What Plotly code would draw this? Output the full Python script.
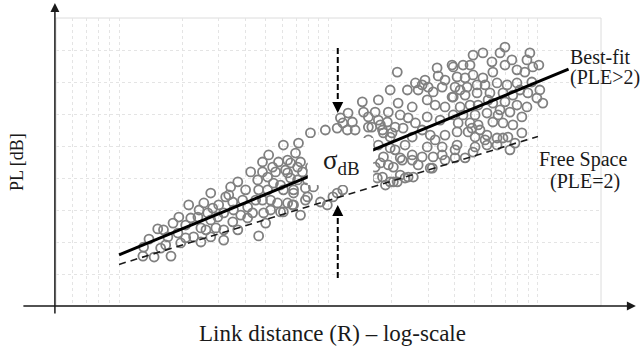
import math
import plotly.graph_objects as go

# ---- data ----
link_distance_R = [
    13.0, 14.7, 17.7, 13.9, 15.3, 15.8, 18.1, 19.3, 17.1, 19.7, 21.5, 22.0, 23.8, 24.6, 25.4, 27.4,
    28.0, 27.4, 29.9, 31.6, 32.3, 34.1, 34.9, 36.9, 36.9, 22.7, 24.6, 27.4, 20.8, 31.6, 13.1, 16.3,
    19.1, 26.5, 29.6, 31.6, 34.9, 35.2, 46.4, 59.0, 73.5, 50.1, 57.1, 68.1, 40.2, 42.5, 45.9, 48.4,
    51.8, 54.1, 60.9, 69.6, 71.9, 82.0, 73.5, 63.8, 59.0, 51.2, 44.9, 49.0, 67.3, 91.5, 105, 117,
    96.6, 110, 117, 124, 79.4, 84.7, 54.6, 43.4, 41.1, 82.0, 75.1, 60.9, 51.2, 48.4, 57.7, 65.9,
    52.9, 68.1, 79.4, 60.9, 145, 147, 155, 177, 193, 197, 213, 173, 191, 183, 197, 183,
    204, 177, 197, 171, 197, 63.8, 68.1, 77.6, 71.2, 62.3, 71.2, 63.8, 123, 134, 330, 334,
    389, 289, 260, 167, 215, 220, 251, 296, 316, 349, 299, 268, 323, 360, 389, 181,
    161, 155, 201, 227, 260, 296, 280, 251, 232, 208, 167, 193, 225, 251, 296, 323,
    349, 360, 316, 313, 268, 240, 220, 204, 181, 187, 240, 208, 155, 173, 130, 659,
    696, 915, 886, 751, 696, 603, 546, 490, 474, 439, 394, 490, 546, 609, 794, 866,
    945, 411, 449, 402, 459, 512, 559, 638, 712, 794, 935, 394, 449, 512, 590, 681,
    759, 895, 988, 425, 474, 518, 609, 696, 794, 886, 394, 439, 501, 571, 645, 735,
    838, 416, 474, 518, 609, 681, 759, 411, 464, 501, 571, 638, 719, 838, 777, 490,
    571, 638, 411, 402, 1010, 280, 238, 114, 484, 681, 559, 501, 402, 349, 280, 251,
    220, 306, 213, 232, 254, 110, 98.7, 1055, 1021,
    38.9, 46.4, 55.9, 65.9, 77.6, 48.4, 41.1, 52.9, 33.4, 29.0, 24.1, 20.8, 16.7, 26.0, 38.1,
    360, 425, 578, 659, 820, 529, 735, 341, 306, 360, 449, 173,
]
path_loss_dB = [
    15.6, 15.3, 15.6, 20.9, 24.1, 18.1, 25.9, 27.8, 21.6, 19.7, 31.6, 27.5, 27.8, 24.4, 32.2, 35.3,
    30.6, 26.9, 31.6, 23.8, 34.1, 37.2, 26.3, 38.8, 23.8, 21.6, 20.0, 21.6, 21.3, 20.6, 18.4, 23.8,
    22.8, 29.1, 27.8, 29.1, 32.5, 30.0, 21.9, 29.4, 28.4, 25.9, 32.2, 31.6, 36.3, 41.9, 39.4, 45.0,
    47.2, 43.4, 50.3, 47.8, 50.9, 54.1, 45.0, 41.6, 37.8, 36.3, 33.1, 29.1, 31.6, 32.5, 34.1, 36.3,
    55.0, 55.6, 57.2, 60.3, 39.4, 37.2, 38.4, 29.1, 30.9, 43.4, 41.9, 36.3, 40.3, 41.9, 45.0, 44.7,
    33.1, 36.3, 34.1, 29.4, 63.8, 60.6, 55.9, 56.6, 60.6, 67.5, 73.1, 64.4, 57.5, 54.1, 52.8, 46.6,
    43.4, 44.7, 38.8, 40.0, 49.4, 32.2, 35.3, 33.1, 39.4, 42.5, 43.4, 45.6, 55.0, 55.0, 74.4, 71.9,
    75.3, 70.6, 69.7, 60.6, 63.4, 59.7, 62.2, 64.4, 66.9, 68.4, 68.4, 67.5, 62.8, 62.2, 65.3, 55.0,
    55.9, 51.9, 54.1, 55.6, 57.2, 59.1, 55.0, 52.8, 50.3, 48.8, 43.4, 44.1, 45.6, 47.2, 49.7, 51.9,
    49.7, 53.4, 46.6, 43.1, 44.1, 40.3, 40.9, 38.8, 40.3, 37.8, 58.8, 55.9, 59.1, 58.1, 57.5, 79.1,
    80.9, 79.1, 76.9, 76.9, 75.3, 76.3, 79.1, 78.4, 75.3, 75.3, 74.7, 72.2, 71.3, 73.1, 73.8, 73.1,
    74.7, 71.6, 71.3, 68.4, 68.4, 69.1, 69.1, 69.7, 69.1, 69.7, 70.0, 65.3, 65.9, 66.6, 66.6, 66.6,
    65.9, 66.6, 65.0, 62.2, 62.8, 62.8, 63.4, 63.8, 62.8, 62.2, 59.7, 59.7, 59.7, 60.3, 59.7, 60.6,
    59.1, 57.2, 57.2, 56.6, 57.5, 57.2, 56.6, 54.4, 54.4, 52.8, 53.4, 52.5, 52.8, 54.1, 50.9, 48.1,
    50.3, 50.3, 50.3, 46.3, 75.3, 69.1, 67.5, 58.8, 55.6, 52.5, 51.9, 49.7, 48.8, 47.2, 46.6, 45.6,
    46.3, 43.1, 38.8, 40.0, 40.3, 35.3, 31.6, 63.4, 67.5,
    33.1, 36.3, 41.9, 40.0, 36.9, 33.1, 27.5, 30.0, 34.7, 24.4, 30.0, 25.3, 19.1, 23.8, 28.4,
    70.6, 67.5, 64.4, 61.3, 67.5, 55.0, 48.8, 58.1, 53.4, 45.6, 46.3, 50.3,
]
best_fit_R = [10, 1400]
best_fit_PL = [16, 74]
free_space_R = [10, 1000]
free_space_PL = [13, 53]

grid_R = [5, 6, 7, 8, 9, 10, 20, 30, 40, 50, 60, 70, 80, 90, 100,
          200, 300, 400, 500, 600, 700, 800, 900, 1000, 2000]
x_range_R = [5, 2000]
y_range_PL = [0, 90]

FONT = "Liberation Serif"
INK = "#1a1a1a"

fig = go.Figure()
fig.add_trace(go.Scatter(
    x=link_distance_R, y=path_loss_dB, mode="markers",
    marker=dict(symbol="circle-open", size=9, color="#808080", line=dict(width=1.8, color="#808080")),
    showlegend=False))
fig.add_trace(go.Scatter(
    x=free_space_R, y=free_space_PL, mode="lines",
    line=dict(color=INK, width=1.6, dash="7px,5px"), showlegend=False))
fig.add_trace(go.Scatter(
    x=best_fit_R, y=best_fit_PL, mode="lines",
    line=dict(color="#000000", width=3), showlegend=False))

fig.update_xaxes(type="log", range=[math.log10(x_range_R[0]), math.log10(x_range_R[1])],
                 tickvals=grid_R, showticklabels=False, ticks="",
                 showgrid=True, gridcolor="#e4e4e4", gridwidth=1, griddash="dot",
                 zeroline=False, showline=False)
fig.update_yaxes(range=y_range_PL, tick0=0, dtick=10, showticklabels=False, ticks="",
                 showgrid=True, gridcolor="#e4e4e4", gridwidth=1, griddash="dot",
                 zeroline=False, showline=False)

shapes = [
    dict(type="rect", xref="paper", yref="paper", x0=0, x1=1, y0=0, y1=1,
         line=dict(color="#dcdcdc", width=1), layer="below"),
    dict(type="rect", xref="paper", yref="paper", x0=0.462, x1=0.582, y0=0.420, y1=0.583,
         fillcolor="white", line=dict(width=0), layer="above"),
    dict(type="line", xref="paper", yref="paper", x0=0.517, x1=0.517, y0=0.896, y1=0.70,
         line=dict(color="#000", width=2, dash="6px,3px")),
    dict(type="line", xref="paper", yref="paper", x0=0.517, x1=0.517, y0=0.097, y1=0.32,
         line=dict(color="#000", width=2, dash="6px,3px")),
]


def label(x, y, text, size, **kw):
    return dict(xref="paper", yref="paper", x=x, y=y, text=text, showarrow=False,
                xanchor="center", yanchor="middle",
                font=dict(family=FONT, size=size, color=INK), **kw)


annotations = [
    dict(xref="paper", yref="paper", x=1.064, y=0, ax=-614, ay=0, axref="pixel", ayref="pixel",
         text="", showarrow=True, arrowhead=2, arrowsize=1.2, arrowwidth=1.5, arrowcolor=INK, standoff=0),
    dict(xref="paper", yref="paper", x=-0.002, y=1.052, ax=0, ay=312, axref="pixel", ayref="pixel",
         text="", showarrow=True, arrowhead=2, arrowsize=1.2, arrowwidth=1.5, arrowcolor=INK, standoff=0),
    dict(xref="paper", yref="paper", x=0.517, y=0.670, ax=0, ay=-12, axref="pixel", ayref="pixel",
         text="", showarrow=True, arrowhead=2, arrowsize=1.1, arrowwidth=2, arrowcolor="#000", standoff=0),
    dict(xref="paper", yref="paper", x=0.517, y=0.351, ax=0, ay=12, axref="pixel", ayref="pixel",
         text="", showarrow=True, arrowhead=2, arrowsize=1.1, arrowwidth=2, arrowcolor="#000", standoff=0),
    label(0.523, 0.50, "σ<sub>dB</sub>", 27),
    label(0.998, 0.865, "Best-fit", 20),
    label(1.007, 0.792, "(PLE>2)", 20),
    label(0.967, 0.507, "Free Space", 20),
    label(0.971, 0.434, "(PLE=2)", 20),
    label(0.508, -0.097, "Link distance (R) – log-scale", 23),
    label(-0.0716, 0.5, "PL [dB]", 18, textangle=-90),
]

fig.update_layout(width=644, height=350, margin=dict(l=56, r=43, t=18, b=44),
                  paper_bgcolor="white", plot_bgcolor="white",
                  shapes=shapes, annotations=annotations, showlegend=False)

fig.write_html("out.html", config={"displayModeBar": False},
               post_script="document.body.style.margin='0px';")
